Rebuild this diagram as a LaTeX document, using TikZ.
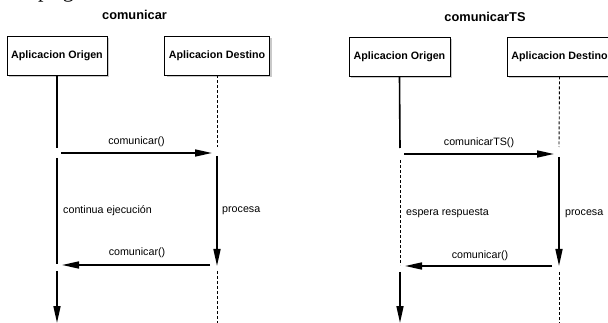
\documentclass[tikz,border=0pt]{standalone}
\usepackage{fontspec}
\setmainfont{Liberation Sans}
\newfontfamily\fragfont{Liberation Serif}
\usetikzlibrary{arrows.meta,shadows}
\tikzset{
  actorbox/.style={draw=black, line width=0.8pt, fill=white, minimum height=39pt,
    inner sep=0pt, font=\fontsize{10.7}{12}\selectfont\bfseries,
    drop shadow={shadow xshift=2pt, shadow yshift=-2pt, fill=black!35, opacity=0.6}},
  title/.style={font=\fontsize{12.8}{14}\selectfont\bfseries, anchor=base},
  lbl/.style={font=\fontsize{10.7}{12}\selectfont, anchor=base, inner sep=0pt},
  active/.style={line width=1.6pt},
  waiting/.style={line width=0.9pt, dash pattern=on 3pt off 2pt},
  msg/.style={line width=1.6pt, -{Triangle[length=17pt, width=7pt]}},
}
\begin{document}
\begin{tikzpicture}[x=1pt, y=-1pt]
\useasboundingbox (0,0) rectangle (608,323);
\fill[white] (0,0) rectangle (608,323);
% page fragment at top
\node[font=\fragfont\fontsize{22}{24}\selectfont, anchor=base] (frag) at (56,-2) {p\hspace{14pt}g};

% ---------- left diagram ----------
\node[title] (t1) at (134.5,20) {comunicar};
\node[actorbox, minimum width=100pt] (lo) at (57,55.5) {Aplicacion Origen};
\node[actorbox, minimum width=105pt] (ld) at (217,55.5) {Aplicacion Destino};

\coordinate (lo1) at (57,148);
\coordinate (lo2) at (57,158);
\coordinate (lo3) at (57,264);
\coordinate (lo4) at (57,271);
\coordinate (lo5) at (57,323);
\coordinate (ld1) at (217,147);
\coordinate (ld2) at (217,156);
\coordinate (ld3) at (217,266);
\coordinate (ld4) at (217,271);
\coordinate (ld5) at (217,323);
\coordinate (lm1s) at (61,153);
\coordinate (lm1e) at (212,153);
\coordinate (lm2s) at (210,265);
\coordinate (lm2e) at (62,265);

\draw[active] (lo.south) -- (lo1);
\draw[active] (lo2) -- (lo3);
\draw[msg] (lo4) -- (lo5);
\draw[waiting] (ld.south) -- (ld1);
\draw[msg] (ld2) -- (ld3);
\draw[waiting] (ld4) -- (ld5);
\draw[msg] (lm1s) -- (lm1e);
\draw[msg] (lm2s) -- (lm2e);

\node[lbl] (l1) at (136.5,144.5) {comunicar()};
\node[lbl] (l2) at (137,256) {comunicar()};
\node[lbl, anchor=base west] (l3) at (63,214) {continua ejecución};
\node[lbl, anchor=base west] (l4) at (222,213) {procesa};

% ---------- right diagram ----------
\node[title] (t2) at (485,21.7) {comunicarTS};
\node[actorbox, minimum width=101pt] (ro) at (399.5,56.5) {Aplicacion Origen};
\node[actorbox, minimum width=105pt] (rd) at (559.5,56.5) {Aplicacion Destino};

\coordinate (ro1) at (400,148);
\coordinate (ro2) at (400,160);
\coordinate (ro3) at (400,265);
\coordinate (ro4) at (400,272);
\coordinate (ro5) at (400,323);
\coordinate (rd1) at (559,147);
\coordinate (rd2) at (559,157);
\coordinate (rd3) at (559,266);
\coordinate (rd4) at (559,272);
\coordinate (rd5) at (559,323);
\coordinate (rm1s) at (404,154);
\coordinate (rm1e) at (554,154);
\coordinate (rm2s) at (552,266);
\coordinate (rm2e) at (405,266);

\draw[active] (ro.south) -- (ro1);
\draw[waiting] (ro2) -- (ro3);
\draw[msg] (ro4) -- (ro5);
\draw[waiting] (rd.south) -- (rd1);
\draw[msg] (rd2) -- (rd3);
\draw[waiting] (rd4) -- (rd5);
\draw[msg] (rm1s) -- (rm1e);
\draw[msg] (rm2s) -- (rm2e);

\node[lbl] (r1) at (479,145.7) {comunicarTS()};
\node[lbl] (r2) at (480,258.3) {comunicar()};
\node[lbl, anchor=base west] (r3) at (406,216) {espera respuesta};
\node[lbl, anchor=base west] (r4) at (565,216) {procesa};
\end{tikzpicture}
\end{document}
